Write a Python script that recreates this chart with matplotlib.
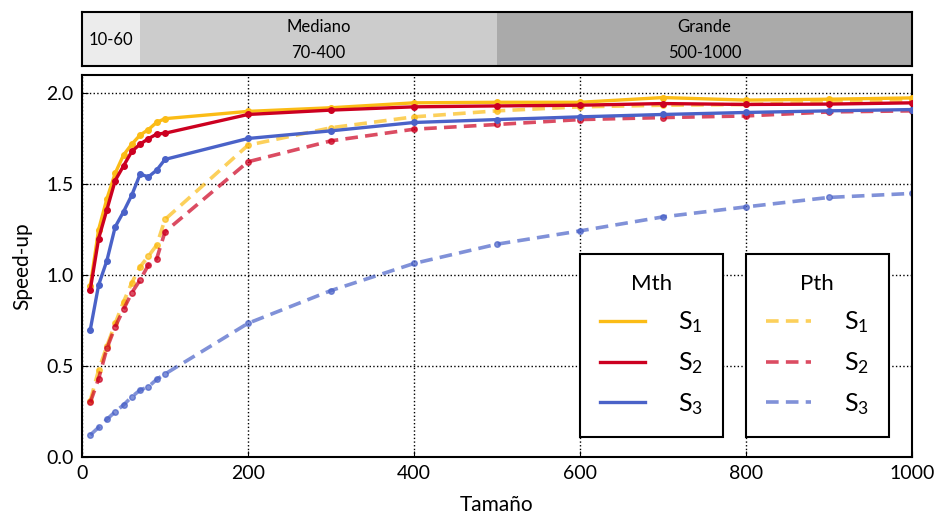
import numpy as np
import matplotlib.pyplot as plt
from matplotlib.lines import Line2D

plt.rcParams['font.family'] = ['Lato', 'DejaVu Sans']
plt.rcParams['mathtext.fontset'] = 'custom'
plt.rcParams['mathtext.rm'] = 'Lato'
plt.rcParams['mathtext.it'] = 'Lato'

# tamaños
x = [10, 20, 30, 40, 50, 60, 70, 80, 90, 100, 200, 300, 400, 500, 600, 700, 800, 900, 1000]

# Mth
mth_s1 = [0.94, 1.25, 1.42, 1.56, 1.66, 1.72, 1.77, 1.80, 1.84, 1.86, 1.90, 1.92, 1.947, 1.95, 1.95, 1.976, 1.962, 1.967, 1.974]
mth_s2 = [0.92, 1.20, 1.36, 1.52, 1.60, 1.68, 1.72, 1.75, 1.775, 1.78, 1.883, 1.907, 1.925, 1.93, 1.934, 1.943, 1.938, 1.94, 1.947]
mth_s3 = [0.70, 0.945, 1.08, 1.265, 1.348, 1.44, 1.555, 1.54, 1.577, 1.636, 1.751, 1.793, 1.839, 1.855, 1.87, 1.883, 1.894, 1.903, 1.91]

# Pth
pth_s1 = [0.31, 0.478, 0.61, 0.734, 0.853, 0.958, 1.046, 1.104, 1.165, 1.306, 1.714, 1.81, 1.87, 1.903, 1.925, 1.934, 1.938, 1.952, 1.962]
pth_s2 = [0.30, 0.43, 0.597, 0.716, 0.811, 0.903, 0.973, 1.055, 1.09, 1.238, 1.623, 1.738, 1.802, 1.828, 1.855, 1.866, 1.875, 1.897, 1.903]
pth_s3 = [0.121, 0.163, 0.207, 0.249, 0.286, 0.331, 0.368, 0.386, 0.427, 0.456, 0.735, 0.915, 1.064, 1.17, 1.243, 1.32, 1.375, 1.427, 1.449]

# rangos de tamaño
bandas = [(0, 70, '10-60', '#ececec'), (70, 500, 'Mediano\n70-400', '#cccccc'), (500, 1000, 'Grande\n500-1000', '#aaaaaa')]

colores = ['#fbbc16', '#cc0020', '#4a62c8']
etiquetas = ['S$_1$', 'S$_2$', 'S$_3$']

fig = plt.figure(figsize=(9.39, 5.17), dpi=100)
ax = fig.add_axes([82/939, 60/517, 830/939, 382/517])
axb = fig.add_axes([82/939, 451/517, 830/939, 54/517])

# barra de rangos
for a, b, txt, c in bandas:
    axb.axvspan(a, b, color=c, lw=0)
    axb.text((a+b)/2, 0.48, txt, ha='center', va='center', fontsize=12, linespacing=1.75)
axb.set_xlim(0, 1000)
axb.set_ylim(0, 1)
axb.set_xticks([])
axb.set_yticks([])
for s in axb.spines.values():
    s.set_linewidth(1.5)

mth = [mth_s1, mth_s2, mth_s3]
pth = [pth_s1, pth_s2, pth_s3]
for i in range(3):
    ax.plot(x, pth[i], color=colores[i], lw=2.6, alpha=0.7, ls=(0, (3.5, 2.0)),
            marker='o', ms=4, zorder=2)
for i in range(3):
    ax.plot(x, mth[i], color=colores[i], lw=2.4, marker='o', ms=4, zorder=3)

ax.set_xlim(0, 1000)
ax.set_ylim(0, 2.1)
ax.set_xticks([0, 200, 400, 600, 800, 1000])
ax.set_yticks([0.0, 0.5, 1.0, 1.5, 2.0])
ax.tick_params(direction='in', length=4, labelsize=14, pad=6)
ax.grid(True, linestyle=':', color='k', linewidth=1)
ax.set_axisbelow(True)
for s in ax.spines.values():
    s.set_linewidth(1.5)
ax.set_xlabel('Tamaño', fontsize=15, labelpad=9)
ax.set_ylabel('Speed-up', fontsize=15, labelpad=10)

# leyendas
h_mth = [Line2D([], [], color=c, lw=2.4) for c in colores]
h_pth = [Line2D([], [], color=c, lw=2.6, alpha=0.7, ls=(0, (3.5, 2.0))) for c in colores]
kw = dict(fontsize=18, title_fontsize=16, frameon=True, fancybox=False, framealpha=1,
          edgecolor='k', handlelength=1.8, handletextpad=1.3, labelspacing=0.6,
          borderpad=0.8, borderaxespad=0, loc='lower left')
leg1 = ax.legend(h_mth, etiquetas, title='Mth', bbox_to_anchor=(0.6, 0.052), **kw)
leg1.get_frame().set_linewidth(1.5)
ax.add_artist(leg1)
leg2 = ax.legend(h_pth, etiquetas, title='Pth', bbox_to_anchor=(0.8, 0.052), **kw)
leg2.get_frame().set_linewidth(1.5)

plt.savefig('out.png', dpi=100)
